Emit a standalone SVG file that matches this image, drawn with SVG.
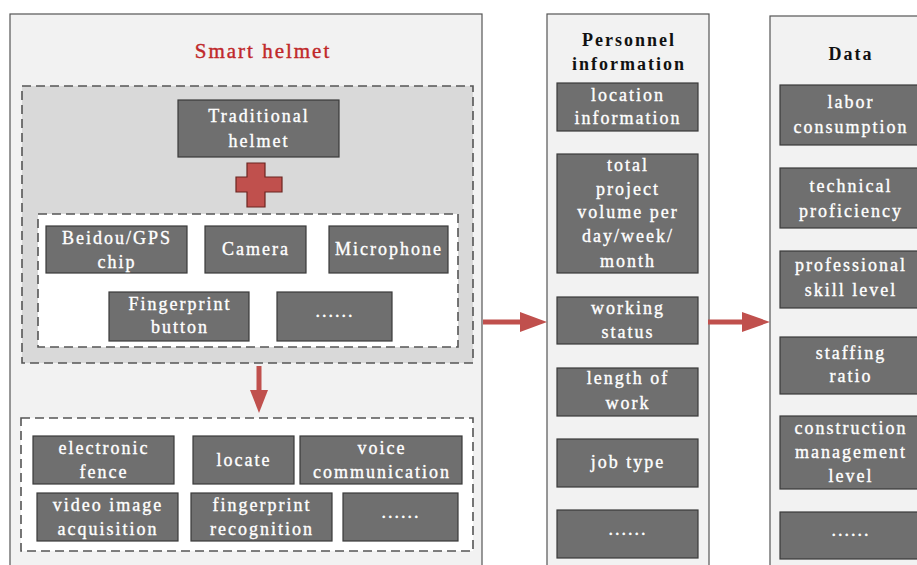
<svg xmlns="http://www.w3.org/2000/svg" width="917" height="565" viewBox="0 0 917 565">
  <style>
    .panel { fill: #f2f2f2; stroke: #555; stroke-width: 1.2; }
    .dash { stroke: #555; stroke-width: 1.6; stroke-dasharray: 9 5; }
    .box { fill: #6f6f6f; stroke: #3a3a3a; stroke-width: 1.2; }
    text { font-family: "Liberation Serif", "Times New Roman", serif; text-anchor: middle; letter-spacing: 2px; }
    .t { font-size: 18px; fill: #ffffff; stroke: #ffffff; stroke-width: 0.35; }
    .h { font-size: 18px; font-weight: bold; fill: #111; }
    .title { font-size: 21px; fill: #c0282a; stroke: #c0282a; stroke-width: 0.4; }
    .arrow { fill: #c0504d; }
  </style>
  <rect width="917" height="565" fill="#ffffff"/>

  <!-- Smart helmet panel -->
  <g id="smart-helmet">
    <rect class="panel" x="10" y="14" width="472" height="570"/>
    <text class="title" x="263" y="58">Smart helmet</text>
    <rect class="dash" x="22" y="86" width="451" height="277" fill="#d9d9d9"/>
    <g id="traditional-helmet">
      <rect class="box" x="178" y="100" width="161" height="57"/>
      <text class="t" x="259" y="122">Traditional</text>
      <text class="t" x="259" y="147">helmet</text>
    </g>
    <g id="plus">
      <path d="M247 163 H265 V177 H282 V192 H265 V207 H247 V192 H236 V177 H247 Z" fill="#c0504d" stroke="#6b2520" stroke-width="1.2"/>
    </g>
    <rect class="dash" x="38" y="214" width="420" height="133" fill="#ffffff"/>
    <g id="beidou">
      <rect class="box" x="46" y="226" width="141" height="47"/>
      <text class="t" x="117" y="244">Beidou/GPS</text>
      <text class="t" x="117" y="268">chip</text>
    </g>
    <g id="camera">
      <rect class="box" x="205" y="226" width="101" height="47"/>
      <text class="t" x="256" y="255">Camera</text>
    </g>
    <g id="microphone">
      <rect class="box" x="329" y="226" width="119" height="47"/>
      <text class="t" x="389" y="255">Microphone</text>
    </g>
    <g id="fingerprint-button">
      <rect class="box" x="109" y="292" width="140" height="49"/>
      <text class="t" x="180" y="310">Fingerprint</text>
      <text class="t" x="180" y="333">button</text>
    </g>
    <g id="hardware-more">
      <rect class="box" x="277" y="292" width="115" height="49"/>
      <text class="t" x="335" y="317">......</text>
    </g>

    <rect class="dash" x="21" y="418" width="452" height="133" fill="#ffffff"/>
    <g id="electronic-fence">
      <rect class="box" x="33" y="436" width="141" height="48"/>
      <text class="t" x="104" y="454">electronic</text>
      <text class="t" x="104" y="478">fence</text>
    </g>
    <g id="locate">
      <rect class="box" x="193" y="436" width="101" height="48"/>
      <text class="t" x="244" y="466">locate</text>
    </g>
    <g id="voice">
      <rect class="box" x="300" y="436" width="162" height="48"/>
      <text class="t" x="382" y="454">voice</text>
      <text class="t" x="382" y="478">communication</text>
    </g>
    <g id="video">
      <rect class="box" x="37" y="493" width="141" height="48"/>
      <text class="t" x="108" y="511">video image</text>
      <text class="t" x="108" y="535">acquisition</text>
    </g>
    <g id="fingerprint-recognition">
      <rect class="box" x="191" y="493" width="141" height="48"/>
      <text class="t" x="262" y="511">fingerprint</text>
      <text class="t" x="262" y="535">recognition</text>
    </g>
    <g id="function-more">
      <rect class="box" x="343" y="493" width="115" height="48"/>
      <text class="t" x="401" y="518">......</text>
    </g>
  </g>

  <!-- Personnel information panel -->
  <g id="personnel">
    <rect class="panel" x="547" y="14" width="162" height="570"/>
    <text class="h" x="629" y="46">Personnel</text>
    <text class="h" x="629" y="70">information</text>
    <g id="location-information">
      <rect class="box" x="557" y="83" width="141" height="48"/>
      <text class="t" x="628" y="101">location</text>
      <text class="t" x="628" y="124">information</text>
    </g>
    <g id="total-project">
      <rect class="box" x="557" y="154" width="141" height="119"/>
      <text class="t" x="628" y="171">total</text>
      <text class="t" x="628" y="195">project</text>
      <text class="t" x="628" y="218">volume per</text>
      <text class="t" x="628" y="242">day/week/</text>
      <text class="t" x="628" y="267">month</text>
    </g>
    <g id="working-status">
      <rect class="box" x="557" y="297" width="141" height="47"/>
      <text class="t" x="628" y="314">working</text>
      <text class="t" x="628" y="338">status</text>
    </g>
    <g id="length-of-work">
      <rect class="box" x="557" y="368" width="141" height="48"/>
      <text class="t" x="628" y="384">length of</text>
      <text class="t" x="628" y="409">work</text>
    </g>
    <g id="job-type">
      <rect class="box" x="557" y="439" width="141" height="48"/>
      <text class="t" x="628" y="468">job type</text>
    </g>
    <g id="personnel-more">
      <rect class="box" x="557" y="510" width="141" height="48"/>
      <text class="t" x="628" y="535">......</text>
    </g>
  </g>

  <!-- Data panel -->
  <g id="data">
    <rect class="panel" x="770" y="16" width="160" height="570"/>
    <text class="h" x="851" y="60">Data</text>
    <g id="labor-consumption">
      <rect class="box" x="780" y="85" width="145" height="60"/>
      <text class="t" x="851" y="108">labor</text>
      <text class="t" x="851" y="133">consumption</text>
    </g>
    <g id="technical-proficiency">
      <rect class="box" x="780" y="168" width="145" height="60"/>
      <text class="t" x="851" y="192">technical</text>
      <text class="t" x="851" y="217">proficiency</text>
    </g>
    <g id="professional-skill">
      <rect class="box" x="780" y="251" width="145" height="57"/>
      <text class="t" x="851" y="271">professional</text>
      <text class="t" x="851" y="296">skill level</text>
    </g>
    <g id="staffing-ratio">
      <rect class="box" x="780" y="337" width="145" height="57"/>
      <text class="t" x="851" y="359">staffing</text>
      <text class="t" x="851" y="382">ratio</text>
    </g>
    <g id="construction-management">
      <rect class="box" x="780" y="416" width="145" height="73"/>
      <text class="t" x="851" y="434">construction</text>
      <text class="t" x="851" y="458">management</text>
      <text class="t" x="851" y="482">level</text>
    </g>
    <g id="data-more">
      <rect class="box" x="780" y="512" width="145" height="47"/>
      <text class="t" x="851" y="536">......</text>
    </g>
  </g>

  <!-- Connectors -->
  <g id="connectors">
    <rect class="arrow" x="256.5" y="366" width="5" height="26"/>
    <polygon class="arrow" points="250,390 268,390 259,413"/>
    <rect class="arrow" x="483" y="319.5" width="39" height="5"/>
    <polygon class="arrow" points="520,312 520,332 547,322"/>
    <rect class="arrow" x="708" y="319.5" width="36" height="5"/>
    <polygon class="arrow" points="742,312 742,332 770,322"/>
  </g>
</svg>
